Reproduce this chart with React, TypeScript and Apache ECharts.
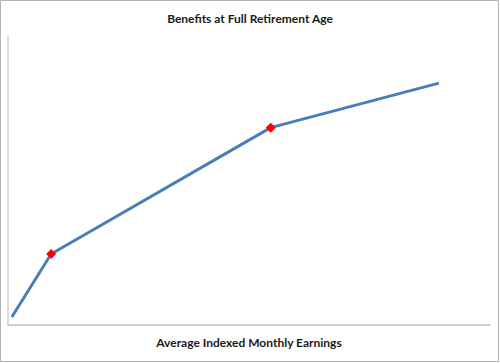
import React, { useEffect, useRef } from "react";
import * as echarts from "echarts";

const titleText = "Benefits at Full Retirement Age";
const xAxisTitle = "Average Indexed Monthly Earnings";
const aime = [80, 895, 5450, 8940];
const benefit = [90, 805, 2240, 2745];
const bendPoint = [false, true, true, false];

export default function App() {
  const ref = useRef<HTMLDivElement>(null);
  useEffect(() => {
    document.body.style.margin = "0";
    const chart = echarts.init(ref.current!, undefined, { renderer: "svg" });
    const data = aime.map((x, i) => ({
      value: [x, benefit[i]],
      symbol: bendPoint[i] ? "diamond" : "none",
      symbolSize: bendPoint[i] ? 10 : 0,
    }));
    chart.setOption({
      animation: false,
      backgroundColor: "#ffffff",
      title: {
        text: titleText,
        left: "center",
        top: 7,
        textStyle: { fontFamily: "Lato", fontSize: 12, fontWeight: "bold", color: "#1a1a1a" },
      },
      grid: { left: 8, right: 10, top: 36, bottom: 38 },
      xAxis: {
        type: "value",
        min: 0,
        max: 10000,
        name: xAxisTitle,
        nameLocation: "middle",
        nameGap: 11,
        nameTextStyle: { fontFamily: "Lato", fontSize: 12, fontWeight: "bold", color: "#1a1a1a" },
        axisLine: { show: true, lineStyle: { color: "#bfbfbf", width: 1.5 } },
        axisTick: { show: false },
        axisLabel: { show: false },
        splitLine: { show: false },
      },
      yAxis: {
        type: "value",
        min: 0,
        max: 3280,
        axisLine: { show: true, lineStyle: { color: "#d0d0d0", width: 1.5 } },
        axisTick: { show: false },
        axisLabel: { show: false },
        splitLine: { show: false },
      },
      graphic: [
        {
          type: "rect",
          shape: { x: 0.5, y: 0.5, width: 498, height: 361 },
          style: { fill: "none", stroke: "#b3b3b3", lineWidth: 1 },
          silent: true,
        },
      ],
      series: [
        {
          type: "line",
          data,
          showSymbol: true,
          lineStyle: { color: "#4a7ebb", width: 3 },
          itemStyle: { color: "#ff0000", borderWidth: 0 },
        },
      ],
    });
    return () => chart.dispose();
  }, []);
  return <div ref={ref} style={{ width: 500, height: 363 }} />;
}
